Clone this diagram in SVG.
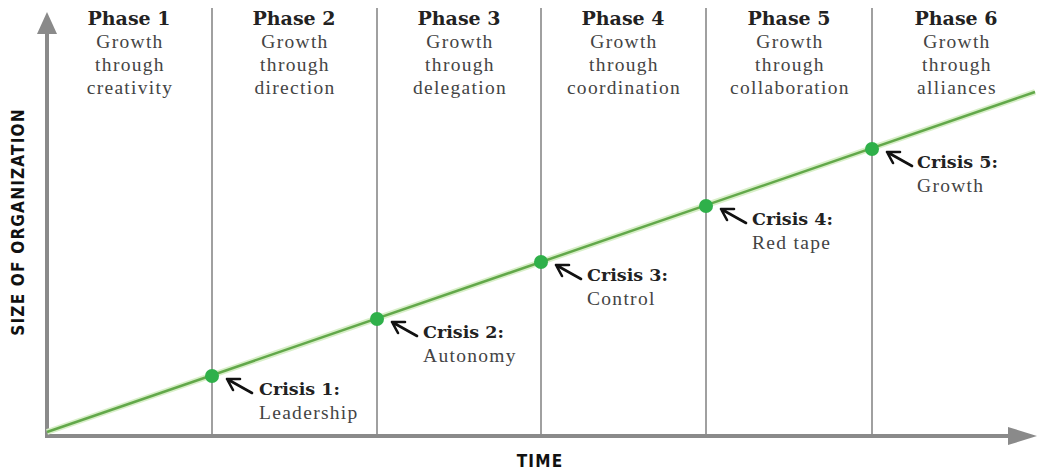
<svg xmlns="http://www.w3.org/2000/svg" width="1043" height="472" viewBox="0 0 1043 472">
<defs>
<style>
.ph{font-family:"DejaVu Serif","Liberation Serif",serif;font-weight:bold;font-size:19px;fill:#222;text-anchor:middle}
.sub{font-family:"Liberation Serif",serif;font-size:19.5px;fill:#444;text-anchor:middle;letter-spacing:1.3px}
.cb{font-family:"DejaVu Serif","Liberation Serif",serif;font-weight:bold;font-size:17.5px;fill:#222}
.cs{font-family:"Liberation Serif",serif;font-size:19.5px;fill:#444;letter-spacing:1.3px}
.ax{font-family:"DejaVu Sans Condensed","DejaVu Sans",sans-serif;font-stretch:condensed;font-weight:bold;font-size:17px;fill:#111;letter-spacing:1.2px}
.vl{stroke:#a0a0a0;stroke-width:2}
.arr{fill:none;stroke:#111;stroke-width:2.6;stroke-linecap:round;stroke-linejoin:round}
.dot{fill:#2fb04a}
</style>
</defs>
<rect width="1043" height="472" fill="#fff"/>
<g id="grid">
<line class="vl" x1="212" y1="8" x2="212" y2="436"/>
<line class="vl" x1="377" y1="8" x2="377" y2="436"/>
<line class="vl" x1="541" y1="8" x2="541" y2="436"/>
<line class="vl" x1="706" y1="8" x2="706" y2="436"/>
<line class="vl" x1="872" y1="8" x2="872" y2="436"/>
</g>
<g id="axes">
<line x1="47" y1="30" x2="47" y2="437" stroke="#8a8a8a" stroke-width="4"/>
<line x1="45" y1="436" x2="1012" y2="436" stroke="#8a8a8a" stroke-width="4"/>
<polygon points="47,12 37,34 57,34" fill="#8a8a8a"/>
<polygon points="1037,436 1008,427 1008,445" fill="#8a8a8a"/>
<text class="ax" transform="translate(24,222) rotate(-90)" text-anchor="middle">SIZE OF ORGANIZATION</text>
<text class="ax" x="540" y="467" text-anchor="middle">TIME</text>
</g>
<g id="connectors">
<line x1="47" y1="432" x2="1035" y2="92" stroke="#d8efc8" stroke-width="6"/>
<line x1="47" y1="432" x2="1035" y2="92" stroke="#62a84a" stroke-width="2.5"/>
</g>
<g id="phase1"><text class="ph" x="129" y="25">Phase 1</text><text class="sub" x="130" y="48">Growth</text><text class="sub" x="130" y="71">through</text><text class="sub" x="130" y="94">creativity</text></g>
<g id="phase2"><text class="ph" x="294" y="25">Phase 2</text><text class="sub" x="295" y="48">Growth</text><text class="sub" x="295" y="71">through</text><text class="sub" x="295" y="94">direction</text></g>
<g id="phase3"><text class="ph" x="459" y="25">Phase 3</text><text class="sub" x="460" y="48">Growth</text><text class="sub" x="460" y="71">through</text><text class="sub" x="460" y="94">delegation</text></g>
<g id="phase4"><text class="ph" x="623" y="25">Phase 4</text><text class="sub" x="624" y="48">Growth</text><text class="sub" x="624" y="71">through</text><text class="sub" x="624" y="94">coordination</text></g>
<g id="phase5"><text class="ph" x="789" y="25">Phase 5</text><text class="sub" x="790" y="48">Growth</text><text class="sub" x="790" y="71">through</text><text class="sub" x="790" y="94">collaboration</text></g>
<g id="phase6"><text class="ph" x="956" y="25">Phase 6</text><text class="sub" x="957" y="48">Growth</text><text class="sub" x="957" y="71">through</text><text class="sub" x="957" y="94">alliances</text></g>
<g id="crisis1"><circle class="dot" cx="212" cy="376" r="7"/><path class="arr" d="M252,393 L227,379 M227,379 L240,379 M227,379 L233,390"/><text class="cb" x="259" y="395">Crisis 1:</text><text class="cs" x="259" y="419">Leadership</text></g>
<g id="crisis2"><circle class="dot" cx="377" cy="319" r="7"/><path class="arr" d="M417,336 L392,322 M392,322 L405,322 M392,322 L398,333"/><text class="cb" x="423" y="338">Crisis 2:</text><text class="cs" x="423" y="362">Autonomy</text></g>
<g id="crisis3"><circle class="dot" cx="541" cy="262" r="7"/><path class="arr" d="M581,279 L556,265 M556,265 L569,265 M556,265 L562,276"/><text class="cb" x="587" y="281">Crisis 3:</text><text class="cs" x="587" y="305">Control</text></g>
<g id="crisis4"><circle class="dot" cx="706" cy="206" r="7"/><path class="arr" d="M746,223 L721,209 M721,209 L734,209 M721,209 L727,220"/><text class="cb" x="752" y="225">Crisis 4:</text><text class="cs" x="752" y="249">Red tape</text></g>
<g id="crisis5"><circle class="dot" cx="872" cy="149" r="7"/><path class="arr" d="M912,166 L887,152 M887,152 L900,152 M887,152 L893,163"/><text class="cb" x="917" y="168">Crisis 5:</text><text class="cs" x="917" y="192">Growth</text></g>
</svg>
